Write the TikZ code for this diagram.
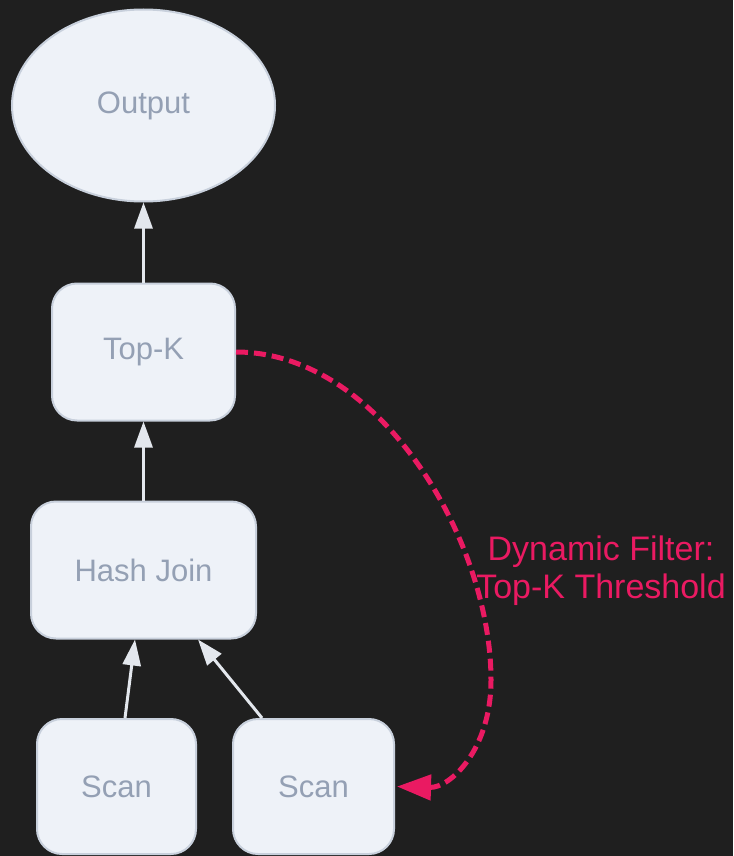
\documentclass[tikz,border=0pt]{standalone}
\usepackage{fontspec}
\setmainfont{Liberation Sans}
\usetikzlibrary{arrows.meta,shapes.geometric}
\definecolor{bgdark}{HTML}{1F1F1F}
\definecolor{nodefill}{HTML}{EEF2F8}
\definecolor{nodeline}{HTML}{C8D0DC}
\definecolor{nodetext}{HTML}{94A0B4}
\definecolor{edgecol}{HTML}{E3E7ED}
\definecolor{filtercol}{HTML}{EA1A62}
\tikzset{
  opbox/.style={draw=nodeline, line width=2pt, fill=nodefill, rounded corners=25pt,
    text=nodetext, font=\fontsize{31}{37}\selectfont, inner sep=0pt},
  opellipse/.style={ellipse, draw=nodeline, line width=2pt, fill=nodefill,
    text=nodetext, font=\fontsize{31}{37}\selectfont, inner sep=0pt},
  flow/.style={draw=edgecol, line width=3pt,
    -{Triangle[length=26pt,width=18pt]}},
  filter/.style={draw=filtercol, line width=5pt, dash pattern=on 12pt off 6pt,
    -{Triangle[length=34pt,width=25pt,fill=filtercol]}},
  filterlabel/.style={text=filtercol, font=\fontsize{34}{38}\selectfont, align=center}
}
\begin{document}
\begin{tikzpicture}[x=1pt,y=-1pt]
  \fill[bgdark] (0,0) rectangle (733,856);
  \useasboundingbox (0,0) rectangle (733,856);

  % operators of the plan
  \node[opellipse, minimum width=263pt, minimum height=192pt] (output) at (143.5,105.5) {Output};
  \node[opbox, minimum width=183pt, minimum height=137pt] (topk) at (143.5,352) {Top-K};
  \node[opbox, minimum width=225pt, minimum height=137pt] (hj) at (143.5,570) {Hash Join};
  \node[opbox, minimum width=159pt, minimum height=135pt] (scanA) at (116.5,786.5) {Scan};
  \node[opbox, minimum width=161pt, minimum height=135pt] (scanB) at (313.5,786.5) {Scan};

  % data flow
  \draw[flow] (topk.north) -- (output.south);
  \draw[flow] (hj.north) -- (topk.south);
  \draw[flow] ([xshift=8.5pt]scanA.north) -- ([xshift=-8.5pt]hj.south);
  \draw[flow] ([xshift=-51.5pt]scanB.north) -- ([xshift=54.5pt]hj.south);

  % dynamic filter pushed down to the scan
  \coordinate (bend) at (491,680);
  \draw[filter] (topk.east) .. controls (380,352) and (491,540) .. (bend)
    .. controls (491,750) and (450,788) .. ([xshift=2pt]scanB.east);
  \node[filterlabel] (flabel) at (601,571) {Dynamic Filter:\\Top-K Threshold};
\end{tikzpicture}
\end{document}
